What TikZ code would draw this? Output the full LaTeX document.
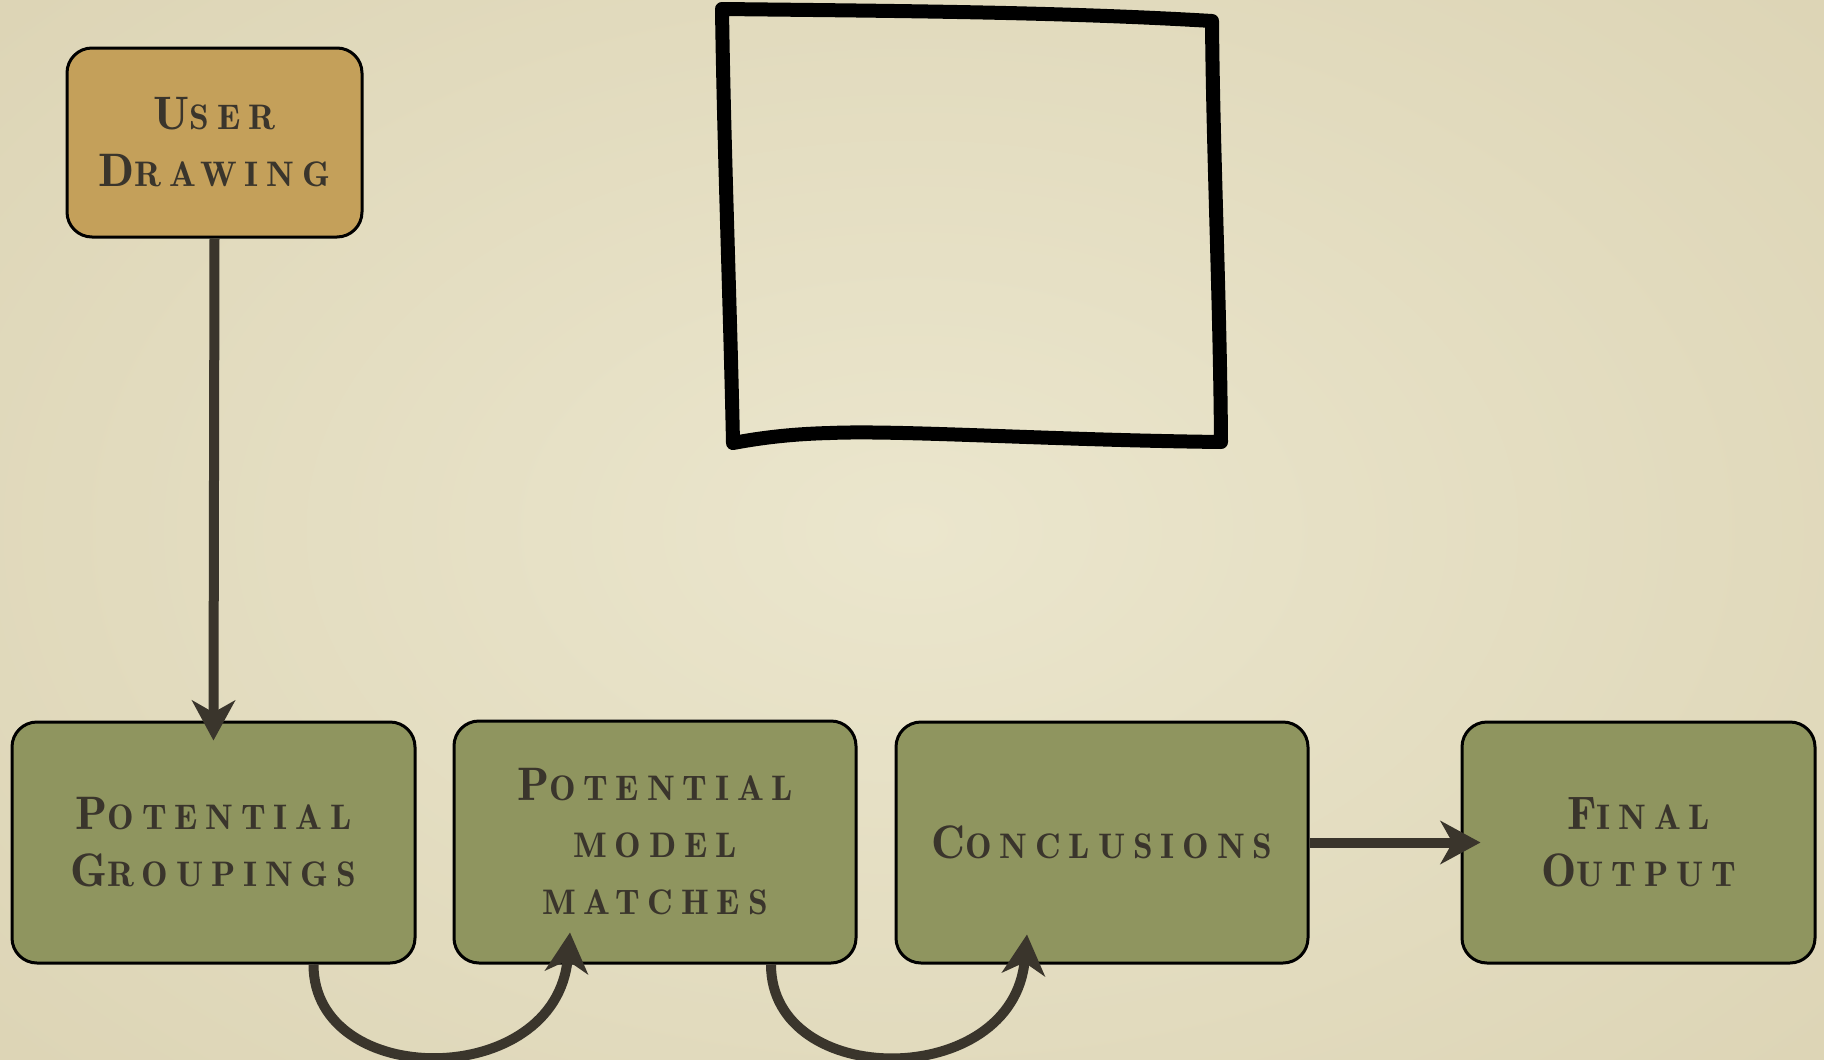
\documentclass[tikz,border=0pt]{standalone}
\usepackage{fontspec}
\usetikzlibrary{arrows.meta,calc}
\newfontfamily\capfont{lmromandemi10-regular.otf}[LetterSpace=22]
\definecolor{bgin}{HTML}{EBE6CD}
\definecolor{bgout}{HTML}{DDD5B6}
\definecolor{gold}{HTML}{C4A05A}
\definecolor{olive}{HTML}{8F955F}
\definecolor{ink}{HTML}{3A352C}
\newcommand{\BigL}[1]{{\fontsize{47}{57}\selectfont #1}}
\newcommand{\SmL}[1]{{\fontsize{35.5}{57}\selectfont #1}}
\tikzset{
  box/.style={draw=black, line width=3pt, rounded corners=25pt, inner sep=0pt,
    text=ink, align=center, font=\capfont\fontsize{35.5}{57}\selectfont},
  flow/.style={draw=ink, line width=10pt,
    -{Stealth[length=40pt,width=43pt,inset=12pt]}},
  sketch/.style={draw=black, line width=14pt, line cap=round, line join=round}
}
\begin{document}
\begin{tikzpicture}[x=1pt,y=-1pt]
\useasboundingbox (0,0) rectangle (1824,1060);
\shade[inner color=bgin, outer color=bgout] (-300,-250) rectangle (2124,1310);
% nodes
\node[box, fill=gold, minimum width=295pt, minimum height=189pt] (ud) at (214.5,142.5)
  {\BigL{U}\SmL{SER}\\\BigL{D}\SmL{RAWING}};
\node[box, fill=olive, minimum width=403pt, minimum height=241pt] (pg) at (213.5,842.5)
  {\BigL{P}\SmL{OTENTIAL}\\\BigL{G}\SmL{ROUPINGS}};
\node[box, fill=olive, minimum width=402pt, minimum height=242pt] (pm) at (655,842)
  {\BigL{P}\SmL{OTENTIAL}\\\SmL{MODEL}\\\SmL{MATCHES}};
\node[box, fill=olive, minimum width=412pt, minimum height=241pt] (cc) at (1102,842.5)
  {\BigL{C}\SmL{ONCLUSIONS}};
\node[box, fill=olive, minimum width=353pt, minimum height=241pt] (fo) at (1638.5,842.5)
  {\BigL{F}\SmL{INAL}\\\BigL{O}\SmL{UTPUT}};
% connectors
\draw[flow, shorten >=-20pt] (ud.south) -- (pg.north);
\draw[flow, shorten >=-20pt] (cc.east) -- (fo.west);
\coordinate (s1) at ($(pg.south)+(100,0)$);
\coordinate (e1) at ($(pm.south)+(-85,-32)$);
\draw[flow] (s1) .. controls ($(s1)+(0,126)$) and ($(e1)+(-14,158)$) .. (e1);
\coordinate (s2) at ($(pm.south)+(116,0)$);
\coordinate (e2) at ($(cc.south)+(-75,-30)$);
\draw[flow] (s2) .. controls ($(s2)+(0,126)$) and ($(e2)+(-14,156)$) .. (e2);
% hand-drawn square
\draw[sketch] (722,9) .. controls (900,11) and (1060,12) .. (1212,21)
  .. controls (1213,150) and (1220,300) .. (1221,442)
  .. controls (1050,440) and (900,430) .. (830,433)
  .. controls (790,434) and (760,438) .. (733,443)
  .. controls (730,300) and (724,150) .. (722,9) -- cycle;
\end{tikzpicture}
\end{document}
